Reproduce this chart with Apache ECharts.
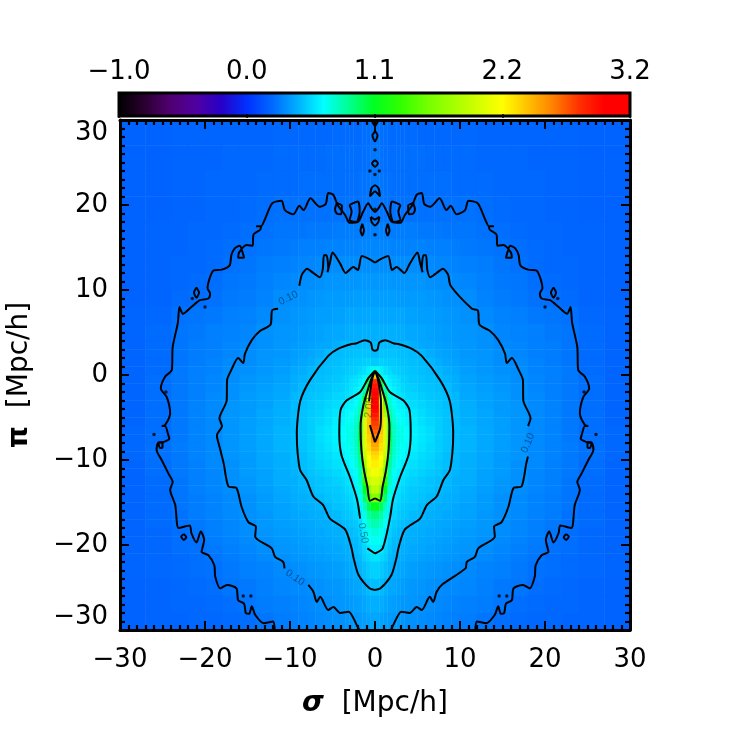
<!DOCTYPE html>
<html>
<head>
<meta charset="utf-8">
<script src="https://cdn.jsdelivr.net/npm/echarts@6/dist/echarts.min.js"></script>
<style>
  html, body { margin: 0; background: #fff; }
  #chart { width: 750px; height: 750px; }
</style>
</head>
<body>
<div id="chart"></div>
<script>
// sigma is folded so only |sigma| is listed. two tables, the core needs finer cells
const nearSigmaEdges = [0, .5, 1, 1.5, 2, 2.5, 3]
const nearPiEdges = [30, 27, 24, 21, 18, 16, 14, 12, 10, 8, 6, 4, 3, 2, 1, 0, -.5, -1, -1.5, -2, -2.5, -3, -3.5, -4, -4.5, -5, -5.5, -6, -6.5, -7, -7.5, -8, -8.5, -9, -9.5, -10, -11, -12, -13, -14, -15, -16, -17, -18, -19, -20, -21, -22, -24, -26, -28, -30]
const nearValues = [
  [.30, .28, .28, .27, .27, .27],
  [.31, .29, .28, .28, .28, .28],
  [.31, .30, .29, .29, .28, .28],
  [.31, .30, .30, .29, .29, .29],
  [.33, .33, .33, .32, .32, .32],
  [.35, .35, .35, .35, .34, .34],
  [.37, .37, .37, .37, .37, .37],
  [.40, .40, .40, .40, .39, .39],
  [.42, .42, .42, .42, .42, .41],
  [.45, .45, .44, .44, .44, .44],
  [.47, .47, .47, .47, .47, .46],
  [.50, .50, .50, .50, .50, .49],
  [.50, .52, .52, .52, .52, .51],
  [.54, .56, .55, .54, .54, .53],
  [.72, .64, .60, .58, .56, .55],
  [2.3, .80, .66, .62, .60, .58],
  [2.8, 1.0, .70, .64, .61, .59],
  [2.9, 1.3, .75, .66, .62, .60],
  [2.95, 1.6, .82, .70, .64, .61],
  [3.0, 1.85, .92, .72, .65, .62],
  [3.05, 2.05, 1.1, .75, .67, .63],
  [3.05, 2.2, 1.3, .78, .69, .64],
  [3.0, 2.3, 1.5, .80, .71, .65],
  [2.95, 2.35, 1.65, .82, .73, .67],
  [2.9, 2.35, 1.75, .86, .75, .68],
  [2.8, 2.35, 1.95, .90, .76, .70],
  [2.75, 2.35, 2.0, .94, .78, .71],
  [2.7, 2.35, 2.0, .97, .80, .72],
  [2.65, 2.35, 2.0, 1.0, .80, .72],
  [2.55, 2.3, 2.0, 1.02, .80, .73],
  [2.5, 2.3, 2.0, 1.02, .80, .72],
  [2.45, 2.25, 2.0, 1.0, .80, .72],
  [2.4, 2.25, 1.95, .97, .78, .72],
  [2.3, 2.2, 1.9, .94, .78, .71],
  [2.25, 2.15, 1.85, .92, .76, .70],
  [2.2, 2.1, 1.75, .88, .74, .68],
  [2.1, 2.0, 1.5, .84, .70, .65],
  [1.97, 1.85, 1.3, .80, .67, .62],
  [1.85, 1.6, 1.1, .75, .65, .60],
  [1.6, 1.35, .95, .70, .62, .58],
  [1.12, 1.0, .80, .66, .59, .56],
  [.92, .86, .73, .63, .57, .54],
  [.83, .78, .68, .59, .54, .52],
  [.75, .71, .64, .56, .52, .50],
  [.70, .67, .60, .54, .50, .49],
  [.65, .62, .57, .52, .49, .48],
  [.61, .58, .55, .50, .48, .47],
  [.56, .54, .51, .48, .46, .45],
  [.51, .50, .47, .45, .44, .43],
  [.47, .46, .44, .43, .42, .41],
  [.44, .43, .42, .41, .40, .40]
]
const farSigmaEdges = [3, 3.5, 4, 5, 6, 7, 8, 9, 10, 12, 14, 16, 18, 20, 22, 24, 27, 30]
const farPiEdges = [30, 27, 24, 21, 18, 16, 14, 12, 10, 8, 6, 4, 3, 2, 1, 0, -1, -2, -3, -4, -5, -6, -7, -8, -9, -10, -11, -12, -13, -14, -15, -16, -17, -18, -19, -20, -21, -22, -24, -26, -28, -30]
const farValues = [
  [.27, .27, .27, .26, .26, .26, .26, .26, .26, .25, .25, .25, .25, .25, .25, .24, .24],
  [.28, .28, .28, .28, .27, .27, .27, .27, .27, .26, .26, .26, .25, .25, .25, .24, .24],
  [.28, .28, .28, .28, .28, .28, .28, .27, .27, .27, .26, .26, .26, .25, .25, .24, .24],
  [.29, .29, .29, .29, .29, .29, .29, .29, .29, .28, .27, .26, .26, .25, .25, .24, .24],
  [.32, .32, .32, .31, .31, .31, .30, .30, .30, .29, .28, .27, .26, .26, .25, .25, .24],
  [.34, .34, .34, .34, .33, .33, .33, .32, .31, .30, .29, .28, .27, .26, .25, .25, .24],
  [.37, .37, .37, .36, .36, .35, .35, .34, .33, .32, .30, .29, .27, .26, .26, .25, .24],
  [.39, .39, .39, .39, .38, .37, .37, .36, .35, .33, .31, .30, .28, .27, .26, .25, .24],
  [.41, .41, .41, .41, .40, .39, .38, .38, .37, .34, .32, .31, .29, .28, .27, .25, .24],
  [.44, .43, .43, .42, .42, .41, .40, .39, .38, .36, .34, .33, .31, .30, .29, .26, .25],
  [.46, .45, .45, .44, .43, .42, .41, .40, .39, .38, .35, .34, .33, .31, .30, .27, .25],
  [.49, .49, .47, .45, .44, .43, .42, .41, .40, .38, .36, .35, .33, .32, .30, .27, .25],
  [.51, .51, .50, .49, .46, .44, .43, .42, .40, .39, .37, .35, .33, .32, .30, .27, .25],
  [.52, .52, .51, .50, .49, .46, .44, .43, .41, .39, .37, .36, .34, .32, .30, .27, .25],
  [.54, .53, .52, .51, .50, .49, .46, .45, .42, .40, .38, .37, .34, .33, .31, .27, .25],
  [.56, .55, .53, .52, .51, .50, .48, .46, .43, .41, .39, .37, .35, .33, .31, .28, .25],
  [.58, .56, .55, .53, .52, .51, .50, .47, .44, .42, .40, .38, .35, .33, .31, .28, .25],
  [.60, .58, .57, .55, .53, .52, .51, .49, .45, .43, .41, .38, .36, .33, .31, .28, .25],
  [.64, .61, .59, .57, .55, .53, .51, .50, .46, .43, .41, .39, .36, .34, .31, .28, .25],
  [.67, .64, .62, .59, .56, .54, .52, .50, .47, .44, .41, .39, .36, .34, .31, .28, .25],
  [.70, .66, .64, .60, .57, .55, .52, .50, .47, .44, .42, .39, .36, .34, .31, .28, .25],
  [.72, .68, .65, .62, .59, .55, .52, .50, .48, .45, .42, .39, .36, .34, .31, .28, .26],
  [.72, .68, .65, .62, .59, .55, .52, .50, .48, .45, .42, .39, .36, .34, .31, .28, .26],
  [.70, .67, .64, .61, .58, .55, .52, .50, .48, .45, .42, .39, .36, .34, .32, .29, .26],
  [.68, .65, .62, .59, .57, .54, .51, .50, .47, .44, .41, .39, .36, .34, .31, .29, .26],
  [.64, .62, .60, .58, .56, .53, .51, .49, .47, .44, .41, .38, .36, .33, .31, .28, .25],
  [.62, .60, .58, .56, .54, .52, .50, .48, .46, .43, .41, .38, .35, .33, .31, .28, .25],
  [.60, .58, .56, .54, .52, .51, .49, .47, .46, .43, .40, .38, .35, .33, .30, .27, .25],
  [.58, .56, .54, .53, .52, .50, .48, .47, .45, .42, .39, .37, .35, .33, .30, .27, .25],
  [.56, .55, .53, .52, .50, .48, .47, .46, .44, .41, .38, .36, .34, .32, .30, .27, .25],
  [.54, .53, .52, .50, .48, .47, .46, .45, .43, .41, .38, .36, .34, .32, .30, .27, .25],
  [.53, .52, .50, .49, .47, .46, .45, .44, .43, .40, .38, .36, .34, .32, .29, .27, .25],
  [.51, .50, .48, .47, .46, .45, .44, .43, .42, .40, .37, .35, .33, .31, .29, .27, .25],
  [.49, .48, .47, .46, .45, .44, .43, .42, .41, .39, .37, .35, .33, .30, .28, .26, .25],
  [.48, .47, .46, .45, .44, .43, .42, .41, .40, .38, .36, .34, .32, .29, .28, .26, .25],
  [.47, .46, .45, .44, .43, .42, .41, .40, .39, .37, .35, .33, .31, .29, .28, .26, .25],
  [.46, .45, .44, .43, .42, .41, .40, .39, .38, .36, .34, .32, .30, .28, .27, .26, .25],
  [.44, .43, .42, .41, .40, .39, .38, .37, .36, .34, .33, .31, .29, .28, .27, .26, .25],
  [.42, .41, .40, .39, .38, .37, .36, .36, .35, .33, .31, .30, .28, .27, .26, .25, .24],
  [.40, .40, .39, .38, .37, .36, .35, .34, .33, .32, .30, .28, .27, .26, .26, .25, .24],
  [.39, .38, .38, .37, .36, .35, .34, .33, .32, .30, .28, .27, .26, .26, .25, .25, .24]
]

const colorbarTicks = ['\u22121.0', '0.0', '1.1', '2.2', '3.2']
const axisTicks = [-30, -20, -10, 0, 10, 20, 30]

// contours, left half, the right half is its mirror
const outerHalf = [[-11.8, -30], [-12, -29], [-13.1, -29.2], [-14.1, -28.2], [-14.5, -27.2], [-14.8, -28.1], [-15.2, -28], [-15.4, -26.9], [-16.1, -26.5], [-16.3, -25.1], [-17.4, -24.7], [-18.2, -25.1], [-18.8, -23.7], [-18.9, -22.4], [-19.6, -21.2], [-20.4, -20.8], [-20.1, -19.4], [-20.5, -18.4], [-21, -19.7], [-21.6, -18.6], [-21.8, -17.7], [-23.1, -18], [-23.5, -15.3], [-24.1, -13.5], [-23.8, -12.6], [-24.3, -11.6], [-25.1, -10], [-25.7, -8.8], [-25.5, -8], [-24.9, -7.9], [-24.2, -7.5], [-24.3, -7.1], [-24.7, -6], [-25.1, -6], [-24.7, -5.9], [-24.1, -4.5], [-24.5, -2.6], [-25.2, -1.6], [-24.7, -.2], [-23.9, .6], [-23.8, 3.3], [-23.2, 6.1], [-23, 8], [-22.6, 7.2], [-21.6, 8], [-20.6, 8.8], [-19.6, 9], [-19.4, 9.6], [-19.7, 10.2], [-19, 12.3], [-18, 12.4], [-17.1, 12.9], [-16.9, 14.1], [-16.5, 14.9], [-15.9, 15.2], [-15.6, 14.5], [-15.4, 13.8], [-16.1, 13.8], [-16, 14.4], [-15.1, 15.3], [-14.4, 15.2], [-14.3, 16.5], [-13.5, 17.1], [-13.4, 17.5], [-14, 17.5], [-13.4, 17.5], [-13, 18.2], [-12.1, 20.2], [-11, 20.5], [-10.6, 19.4], [-9.6, 18.9], [-8.9, 19.9], [-8.4, 19.4], [-7.6, 20.8], [-6.5, 19.8], [-5.8, 20.1], [-5.5, 21.4], [-4.9, 21.2], [-4.4, 20], [-3.5, 18.8], [-3, 17.9], [-2, 18], [-1.4, 19.2], [-.8, 20.2], [-.4, 19.6], [0, 19.2]]
const outerLoops = [
  [[-21, 10.3], [-20.7, 9.7], [-21, 9.1], [-21.3, 9.7], [-21, 10.3]],
  [[-22.5, -18.7], [-22.2, -19.1], [-22.5, -19.4], [-22.8, -19], [-22.5, -18.7]],
  [[-25.5, -7.9], [-25.3, -8.6], [-25, -8.5], [-25, -7.9], [-25.5, -7.9]],
  [[-4.5, 20.2], [-4.7, 19.5], [-4.5, 19], [-4, 18.9], [-3.9, 19.9], [-4.5, 20.2]],
  [[-3, 20], [-2, 20.4], [-1.8, 19.2], [-2.2, 18], [-3, 18.2], [-2.75, 19.2], [-3, 20]],
  [[-1.5, 17.8], [-1.7, 17], [-1.5, 16.4], [-1.3, 17], [-1.5, 17.8]]
]
const centerLoops = [
  [[-.4, 30], [0, 29.3], [.4, 30]],
  [[0, 29.3], [0, 28.7], [-.3, 28.2], [0, 27.5], [.3, 28.2], [0, 28.7]],
  [[0, 25.3], [.35, 24.9], [0, 24.5], [-.35, 24.9], [0, 25.3]],
  [[0, 22.35], [-.4, 22], [-.6, 21], [0, 21.6], [.6, 21], [.4, 22], [0, 22.35]],
  [[-.5, 18.6], [0, 18.3], [.5, 18.6], [.4, 18], [0, 17.6], [-.4, 18], [-.5, 18.6]]
]
const contourDots = [[-21.5, 9], [-20, 8], [-24.6, -2], [-26, -7], [-15.5, -26], [-14.6, -26], [21.5, 9], [20, 8], [24.6, -2], [26, -7], [15.5, -26], [14.6, -26], [0, 26.5], [-.6, 24], [.5, 24], [0, 23.6], [0, 19.5], [0, 16.5]]

// the 0.10 contour is cut where its labels sit, differently on each side
const c10LowEnd = [[-1.85, -30], [-2.15, -29.4], [-3.1, -27.85], [-4.1, -28], [-4.9, -27.3], [-5.5, -27.65], [-6.45, -26.1], [-6.85, -26.7], [-7.25, -25.5], [-7.85, -24.7]]
const c10LowMid = [[-10.65, -22.75], [-10.8, -22], [-11.75, -21.4], [-12.15, -20.4], [-14.1, -19], [-14, -17.85], [-14.9, -17.3], [-15.7, -15.5], [-16.3, -13.3], [-17.25, -13.1], [-17.8, -10.4], [-18, -9.6]]
const c10Side = [[-18, -9.6], [-18.2, -8.8], [-18.6, -7.1], [-18, -6]]
const c10UpMid = [[-18, -6], [-18.3, -5.1], [-17.45, -3], [-17.4, -.6], [-16.9, .6], [-16.1, 2], [-15.5, 1.4], [-15.3, 2.5], [-14.5, 4.1], [-13.5, 5.2], [-12.3, 5.9], [-12.1, 7.6], [-11.4, 7.8]]
const c10UpTop = [[-8.9, 10.5], [-8.6, 11.8], [-8, 12.5], [-7.25, 12], [-6.5, 11.5], [-6.15, 12.4], [-6, 14.1], [-5.7, 14.1], [-5.5, 12.4], [-5.6, 12.1], [-5.3, 13.2], [-5, 14.4], [-4.1, 13.1], [-3.45, 12], [-2.55, 12.7], [-2, 12.35], [-1.55, 14], [-.6, 13.6], [0, 13.2]]

const c25Half = [[0, -25.3], [-.65, -25.1], [-1.95, -23.5], [-2.55, -21.4], [-2.75, -20.4], [-3.5, -18.2], [-5.3, -16.9], [-6.1, -15.3], [-7.25, -14.3], [-8.05, -12.35], [-8.8, -11.2], [-9.1, -9.2], [-9.2, -6.9], [-8.8, -3.1], [-7.65, -.6], [-5.5, 2.25], [-4.3, 3.1], [-2.75, 3.65], [-2.25, 3.7], [-1.2, 4.1], [-.5, 3.8], [-.3, 3], [0, 2.85]]
const c50Low = [[0, -21], [-.9, -20.4]]
const c50Up = [[-1.75, -16.9], [-2.1, -14.7], [-2.95, -12], [-3.95, -9.4], [-4.2, -6.9], [-4.05, -4.1], [-3.35, -3], [-1.75, -2], [-.8, -.4], [0, .5]]
const c100Half = [[0, -14.5], [-.6, -14.8], [-.9, -13.1], [-1.3, -11.2], [-1.6, -8.8], [-1.7, -6.1], [-1.4, -3.7], [-.8, -1.6], [-.4, -.4], [0, .4]]
const c200LeftLow = [[0, -7.9], [-.6, -5.9]]
const c200LeftUp = [[-.7, -3.1], [-.4, -.8], [-.1, .3], [0, .4]]
const c200Right = [[0, -7.9], [.6, -6.3], [.7, -4.7], [.7, -3.1], [.4, -.8], [.1, .3], [0, .4]]

const contourLabelTexts = ['0.10', '0.10', '0.10', '0.50', '2.00']
const contourLabelSpots = [[-10.2, 9.05], [-9.4, -23.85], [18, -8], [-1.4, -18.6], [-.67, -3.85]]
const contourLabelAngles = [26, -35, 68, -80, 85]

const mirror = pts => pts.map(p => [-p[0], p[1]])
const full = half => half.concat(mirror(half).reverse())

const cells = []
const addCells = (sigmaEdges, piEdges, table) => {
  table.forEach((row, r) => {
    row.forEach((v, c) => {
      const a = sigmaEdges[c], b = sigmaEdges[c + 1]
      cells.push([a, b, piEdges[r + 1], piEdges[r], v])
      cells.push([-b, -a, piEdges[r + 1], piEdges[r], v])
    })
  })
}
addCells(nearSigmaEdges, nearPiEdges, nearValues)
addCells(farSigmaEdges, farPiEdges, farValues)

const contours = [
  full(outerHalf),
  ...outerLoops,
  ...outerLoops.map(mirror),
  ...centerLoops,
  c10LowEnd,
  [...c10LowMid, ...c10Side.slice(1), ...c10UpMid.slice(1)],
  c10UpTop,
  mirror([...c10LowEnd, ...c10LowMid]),
  mirror([...c10UpMid, ...c10UpTop]),
  full(c25Half),
  c50Low,
  c50Up,
  mirror([...c50Low, ...c50Up]),
  full(c100Half),
  c200LeftLow,
  c200LeftUp,
  c200Right
]

const FONT = 'DejaVu Sans'

const frameAxis = (position, showLabel, labelExtra) => ({
  type: 'value',
  position: position,
  min: -30,
  max: 30,
  interval: 10,
  z: 5,
  axisLine: {show: true, onZero: false, lineStyle: {color: '#000', width: 3}},
  axisTick: {show: true, inside: true, length: 9, lineStyle: {color: '#000', width: 2}},
  minorTick: {show: true, splitNumber: 10, length: 5, lineStyle: {color: '#000', width: 2.2}},
  splitLine: {show: false},
  axisLabel: {
    show: showLabel,
    color: '#000',
    fontFamily: FONT,
    fontSize: 26,
    customValues: axisTicks,
    formatter: v => String(v).replace('-', '\u2212'),
    ...labelExtra
  }
})

const chart = echarts.init(document.getElementById('chart'), null, {renderer: 'canvas'})
chart.setOption({
  animation: false,
  backgroundColor: '#fff',
  grid: [
    {left: 120, top: 120, width: 510, height: 510, outerBoundsMode: 'none'},
    {left: 119, top: 93, width: 511, height: 23, outerBoundsMode: 'none', show: true, z: 10, backgroundColor: 'transparent', borderColor: '#000', borderWidth: 3}
  ],
  xAxis: [
    {
      ...frameAxis('bottom', true, {margin: 17}),
      gridIndex: 0,
      name: '{s|\u03c3}  [Mpc/h]',
      nameLocation: 'middle',
      nameGap: 60,
      nameTextStyle: {
        color: '#000',
        fontFamily: FONT,
        fontSize: 28,
        rich: {s: {fontFamily: FONT, fontSize: 28, fontWeight: 'bold', fontStyle: 'italic', color: '#000'}}
      }
    },
    {...frameAxis('top', false), gridIndex: 0},
    {
      type: 'category',
      gridIndex: 1,
      position: 'top',
      data: colorbarTicks,
      boundaryGap: false,
      z: 11,
      axisLine: {show: false},
      axisTick: {show: true, inside: true, length: 2, lineStyle: {color: '#000', width: 1.5}},
      axisLabel: {color: '#000', fontFamily: FONT, fontSize: 26, margin: 8, interval: 0}
    },
    {
      type: 'category',
      gridIndex: 1,
      position: 'bottom',
      data: colorbarTicks,
      boundaryGap: false,
      z: 11,
      axisLine: {show: false},
      axisTick: {show: true, inside: true, length: 2, lineStyle: {color: '#000', width: 1.5}},
      axisLabel: {show: false}
    }
  ],
  yAxis: [
    {
      ...frameAxis('left', true, {margin: 12, verticalAlignMaxLabel: 'top', verticalAlignMinLabel: 'bottom'}),
      gridIndex: 0,
      name: '{p|\u03c0}  [Mpc/h]',
      nameLocation: 'middle',
      nameGap: 86,
      nameTextStyle: {
        color: '#000',
        fontFamily: FONT,
        fontSize: 28,
        rich: {p: {fontFamily: FONT, fontSize: 28, fontWeight: 'bold', color: '#000'}}
      }
    },
    {...frameAxis('right', false), gridIndex: 0},
    {type: 'value', gridIndex: 1, show: false, min: 0, max: 1}
  ],
  visualMap: {
    type: 'continuous',
    min: -1,
    max: 3.2,
    calculable: false,
    realtime: false,
    hoverLink: false,
    orient: 'horizontal',
    left: 119,
    top: 93,
    padding: 0,
    itemWidth: 23,
    itemHeight: 511,
    text: null,
    seriesIndex: 0,
    dimension: 4,
    inRange: {
      color: ['#000000', '#2a0030', '#500070', '#5000a0', '#2800c8', '#0030ff', '#0068ff', '#00b0ff', '#00ffff', '#00ff90', '#00ff20',
        '#30ff00', '#70ff00', '#a0ff00', '#d0ff00', '#ffff00', '#ffc000', '#ff8000', '#ff3000', '#ff0000', '#ff0000']
    }
  },
  series: [
    {
      type: 'custom',
      xAxisIndex: 0,
      yAxisIndex: 0,
      data: cells,
      silent: true,
      encode: {x: [0, 1], y: [2, 3]},
      renderItem: (params, api) => {
        const p0 = api.coord([api.value(0), api.value(3)])
        const p1 = api.coord([api.value(1), api.value(2)])
        const color = api.visual('color')
        return {
          type: 'rect',
          shape: {x: p0[0], y: p0[1], width: p1[0] - p0[0], height: p1[1] - p0[1]},
          style: {fill: color, stroke: color, lineWidth: .5}
        }
      }
    },
    ...contours.map(pts => ({
      type: 'line',
      xAxisIndex: 0,
      yAxisIndex: 0,
      data: pts,
      symbol: 'none',
      smooth: .25,
      silent: true,
      z: 3,
      lineStyle: {color: '#000', width: 2}
    })),
    {
      type: 'scatter',
      xAxisIndex: 0,
      yAxisIndex: 0,
      data: contourDots,
      symbolSize: 3.5,
      silent: true,
      z: 3,
      itemStyle: {color: '#000'}
    },
    {
      type: 'scatter',
      xAxisIndex: 0,
      yAxisIndex: 0,
      symbolSize: 0,
      silent: true,
      z: 4,
      data: contourLabelSpots.map((spot, i) => ({
        value: spot,
        label: {
          show: true,
          position: 'inside',
          formatter: contourLabelTexts[i],
          rotate: contourLabelAngles[i],
          fontFamily: 'Liberation Sans',
          fontSize: 10.5,
          color: 'rgba(0,0,0,0.55)'
        }
      }))
    },
    {type: 'line', xAxisIndex: 2, yAxisIndex: 2, data: [], silent: true},
    {type: 'line', xAxisIndex: 3, yAxisIndex: 2, data: [], silent: true}
  ]
})
</script>
</body>
</html>
